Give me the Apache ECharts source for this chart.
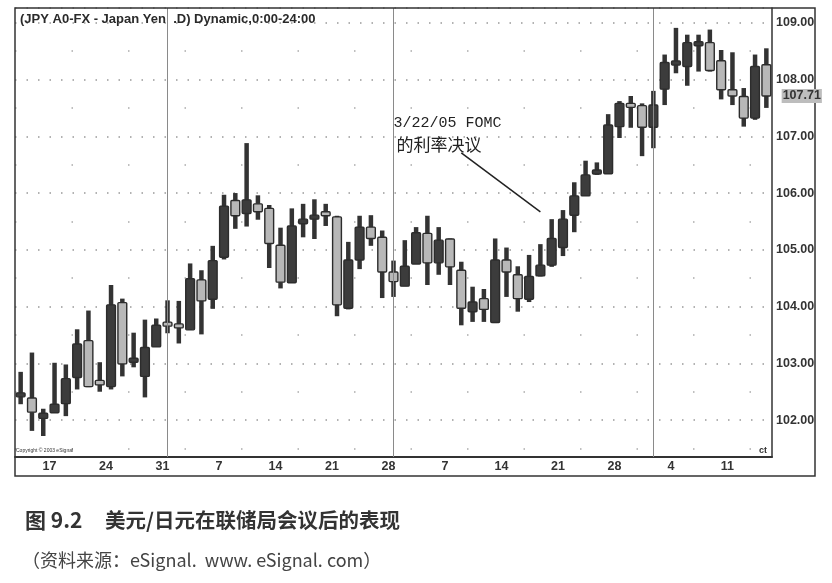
<!DOCTYPE html>
<html><head><meta charset="utf-8">
<script src="https://cdn.jsdelivr.net/npm/echarts@6/dist/echarts.min.js"></script>
<style>html,body{margin:0;padding:0;background:#fff}#c{width:832px;height:583px}</style>
</head><body><div id="c"></div>
<script>
const dates = ['1/12','1/13','1/14','1/17','1/18','1/19','1/20','1/21','1/24','1/25','1/26','1/27','1/28','1/31',
'2/1','2/2','2/3','2/4','2/7','2/8','2/9','2/10','2/11','2/14','2/15','2/16','2/17','2/18','2/21','2/22','2/23','2/24','2/25','2/28',
'3/1','3/2','3/3','3/4','3/7','3/8','3/9','3/10','3/11','3/14','3/15','3/16','3/17','3/18','3/21','3/22','3/23','3/24','3/25','3/28','3/29','3/30','3/31',
'4/1','4/4','4/5','4/6','4/7','4/8','4/11','4/12','4/13','4/14'];
const opens = [102.42,102.39,102.03,102.13,102.29,102.75,103.40,102.70,102.59,104.07,103.02,102.77,103.29,103.70,
103.68,103.59,104.47,104.13,104.87,105.87,105.64,105.81,105.73,105.08,104.42,105.46,105.54,105.67,105.58,103.97,104.82,105.40,105.22,104.61,
104.36,104.75,105.29,104.77,105.19,104.64,103.91,104.14,103.72,104.82,104.56,104.13,104.54,104.73,105.04,105.61,105.95,106.34,106.34,107.17,107.56,107.54,107.16,
107.83,108.27,108.23,108.61,108.65,108.33,107.82,107.70,107.32,108.26];
const closes = [102.47,102.14,102.12,102.28,102.73,103.34,102.59,102.62,104.03,102.99,103.09,103.28,103.67,103.68,
103.64,104.49,104.10,104.81,105.77,105.60,105.88,105.67,105.11,104.43,105.42,105.54,105.61,105.60,104.03,104.82,105.40,105.20,104.61,104.44,
104.71,105.30,104.77,105.17,104.70,103.97,104.08,103.95,104.82,104.61,104.14,104.53,104.73,105.20,105.54,105.95,106.32,106.40,107.20,107.58,107.53,107.16,107.55,
108.30,108.31,108.65,108.65,108.16,107.82,107.71,107.32,108.23,107.71];
const lows = [102.28,101.81,101.72,102.13,102.07,102.54,102.58,102.50,102.54,102.77,102.93,102.40,103.29,103.53,
103.35,103.59,103.51,103.96,104.83,105.37,105.41,105.53,104.68,104.32,104.42,105.22,105.19,105.42,103.83,103.95,104.66,105.07,104.15,104.17,
104.36,104.75,104.38,104.56,104.38,103.67,103.73,103.73,103.71,104.17,103.91,104.08,104.53,104.70,104.89,105.31,105.95,106.32,106.34,106.97,107.15,106.65,106.79,
107.55,108.11,107.89,108.14,108.14,107.65,107.55,107.17,107.29,107.50];
const highs = [102.85,103.19,102.20,103.01,102.98,103.60,103.93,103.02,104.38,104.14,103.54,103.77,103.79,104.11,
104.10,104.76,104.64,105.07,105.97,106.00,106.88,105.96,105.79,105.39,105.73,105.81,105.89,105.81,105.60,105.14,105.60,105.61,105.34,104.81,
105.17,105.40,105.60,105.40,105.20,104.79,104.35,104.31,105.20,105.04,104.71,104.91,105.10,105.54,105.70,106.19,106.57,106.54,107.39,107.62,107.71,107.58,107.80,
108.44,108.91,108.79,108.79,108.88,108.52,108.48,107.85,108.44,108.55];
const weekLabels = ['1/17','1/24','1/31','2/7','2/14','2/21','2/28','3/7','3/14','3/21','3/28','4/4','4/11'];
const monthLines = ['1/31','2/28','3/31'];
const lastPrice = 107.71;
const titleText = '(JPY A0-FX - Japan Yen  .D) Dynamic,0:00-24:00';
const noteLine1 = '3/22/05 FOMC';
const noteLine2 = '的利率决议';
const captionNum = '图 9.2';
const caption1 = '美元/日元在联储局会议后的表现';
const caption2 = '（资料来源：eSignal.  www. eSignal. com）';

const candleData = dates.map((d, i) => [i, opens[i], closes[i], lows[i], highs[i]]);

function renderItem(params, api) {
  const x = api.value(0);
  const o = api.coord([x, api.value(1)]);
  const c = api.coord([x, api.value(2)]);
  const l = api.coord([x, api.value(3)]);
  const h = api.coord([x, api.value(4)]);
  const band = api.size([1, 0])[0];
  const bw = band * 0.78;
  const ww = 4.5;
  const up = api.value(2) >= api.value(1);
  let top = Math.min(o[1], c[1]), bot = Math.max(o[1], c[1]);
  if (bot - top < 4) { const m = (top + bot) / 2; top = m - 2; bot = m + 2; }
  return {
    type: 'group',
    children: [
      { type: 'rect', shape: { x: o[0] - ww / 2, y: h[1], width: ww, height: l[1] - h[1] },
        style: { fill: '#333' } },
      { type: 'rect', shape: { x: o[0] - bw / 2, y: top, width: bw, height: bot - top, r: 1 },
        style: { fill: up ? '#3c3c3c' : '#b8b8b8', stroke: '#2c2c2c', lineWidth: 1.4 } }
    ]
  };
}

const chart = echarts.init(document.getElementById('c'));
chart.setOption({
  animation: false,
  backgroundColor: '#fff',
  title: {
    text: titleText, left: 15, top: 8,
    textStyle: { fontFamily: 'Liberation Sans', fontWeight: 'bold', fontSize: 13, color: '#2a2a2a' }
  },
  grid: { left: 15, right: 60, top: 8, bottom: 126, containLabel: false, outerBoundsMode: 'none' },
  xAxis: {
    type: 'category', data: dates, boundaryGap: true,
    axisLine: { show: true, lineStyle: { color: '#333', width: 2 } },
    axisTick: { show: false },
    splitLine: { show: false },
    axisLabel: {
      interval: (idx, val) => weekLabels.includes(val),
      formatter: v => v.split('/')[1],
      fontFamily: 'Liberation Sans', fontWeight: 'bold', fontSize: 12.5, color: '#333',
      margin: 3, padding: [0, 10, 0, 0]
    }
  },
  yAxis: {
    type: 'value', position: 'right', min: 101.35, max: 109.26, splitNumber: 8, scale: true,
    axisLine: { show: true, lineStyle: { color: '#333', width: 1.5 } },
    axisTick: { show: false },
    axisLabel: {
      formatter: v => (Math.abs(v - Math.round(v)) < 1e-6 ? v.toFixed(2) : ''),
      showMinLabel: false, showMaxLabel: false,
      fontFamily: 'Liberation Sans', fontWeight: 'bold', fontSize: 12.5, color: '#333', margin: 4
    },
    splitLine: { show: true, lineStyle: { color: '#999', width: 1.5, type: [1.5, 10] } },
    minorTick: { show: false, splitNumber: 2 },
    minorSplitLine: { show: true, lineStyle: { color: '#aaa', width: 1.5, type: [1.5, 55] } }
  },
  series: [{
    type: 'custom',
    renderItem: renderItem,
    data: candleData,
    encode: { x: 0, y: [1, 2, 3, 4] },
    clip: true,
    markLine: {
      silent: true, symbol: ['none', 'none'], animation: false,
      data: monthLines.map(m => ({ xAxis: m, lineStyle: { color: '#8a8a8a', width: 1, type: 'solid' }, label: { show: false } }))
    }
  }]
});

// annotation anchored in data space
const p1 = chart.convertToPixel({ gridIndex: 0 }, [32.95, 107.236]);
const p2 = chart.convertToPixel({ gridIndex: 0 }, [32.95, 106.848]);
const a1 = chart.convertToPixel({ gridIndex: 0 }, [38.8, 106.707]);
const a2 = chart.convertToPixel({ gridIndex: 0 }, [45.87, 105.667]);
const lp = chart.convertToPixel({ gridIndex: 0 }, [dates.length - 0.5, lastPrice]);

chart.setOption({
  graphic: [
    { type: 'rect', shape: { x: 15, y: 8, width: 800, height: 468 }, style: { fill: 'none', stroke: '#333', lineWidth: 1.5 }, silent: true, z: 10 },
    { type: 'text', x: lp[0] + 4, y: lp[1], style: { text: lastPrice.toFixed(2), font: 'bold 12.5px "Liberation Sans"', fill: '#333', backgroundColor: '#bdbdbd', padding: [1, 1, 0, 1], verticalAlign: 'middle' }, z: 11 },
    { type: 'text', x: p1[0], y: p1[1], style: { text: noteLine1, font: '15px "Liberation Mono"', fill: '#222', verticalAlign: 'middle' }, z: 10 },
    { type: 'text', x: p2[0] + 3, y: p2[1], style: { text: noteLine2, font: '17px "Noto Sans CJK SC"', fill: '#222', verticalAlign: 'middle' }, z: 10 },
    { type: 'line', shape: { x1: a1[0], y1: a1[1], x2: a2[0], y2: a2[1] }, style: { stroke: '#222', lineWidth: 1.5 }, z: 10 },
    { type: 'text', x: 16, y: 448, style: { text: 'Copyright © 2003 eSignal', font: '5px "Liberation Sans"', fill: '#333' }, z: 10 },
    { type: 'text', x: 759, y: 446, style: { text: 'ct', font: 'bold 9px "Liberation Sans"', fill: '#333' }, z: 10 },
    { type: 'text', x: 25, y: 510, style: { text: captionNum, font: 'bold 21px "Noto Sans CJK SC"', fill: '#333' }, z: 10 },
    { type: 'text', x: 105, y: 510, style: { text: caption1, font: 'bold 20.5px "Noto Sans CJK SC"', fill: '#333' }, z: 10 },
    { type: 'text', x: 22, y: 551, style: { text: caption2, font: '18px "Noto Sans CJK SC"', fill: '#444' }, z: 10 }
  ]
});
</script></body></html>
